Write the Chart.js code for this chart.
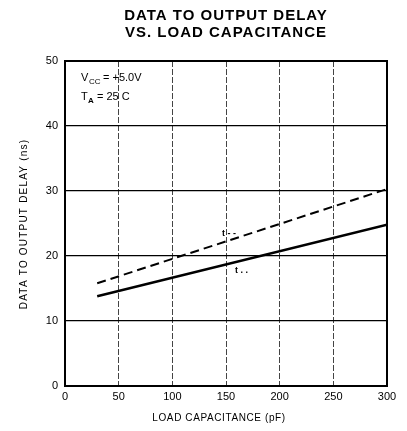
<!DOCTYPE html>
<html>
<head>
<meta charset="utf-8">
<script src="https://cdn.jsdelivr.net/npm/chart.js@4"></script>
<style>
  html, body { margin: 0; padding: 0; background: #fff; }
  #wrap { width: 407px; height: 431px; }
</style>
</head>
<body>
<div id="wrap"><canvas id="delayChart" width="407" height="431"></canvas></div>
<script>
// values
const loadCap = [30, 300];
const delaySolid = [13.8, 24.8];
const delayDashed = [15.8, 30.3];
const xTicks = [0, 50, 100, 150, 200, 250, 300];
const yTicks = [0, 10, 20, 30, 40, 50];

const FONT = '"Liberation Sans", Arial, sans-serif';

// title, axis titles, conditions text, curve tags and the heavy frame
const decorPlugin = {
    id: 'decor',
    afterDraw(chart) {
        const ctx = chart.ctx;
        const area = chart.chartArea;
        ctx.save();
        ctx.fillStyle = '#000';
        ctx.textAlign = 'center';
        ctx.textBaseline = 'middle';
        ctx.letterSpacing = '1px';
        ctx.font = 'bold 15px ' + FONT;
        ctx.fillText('DATA TO OUTPUT DELAY', 226, 16);
        ctx.fillText('VS. LOAD CAPACITANCE', 226, 33);

        ctx.letterSpacing = '0.6px';
        ctx.font = '10px ' + FONT;
        ctx.fillText('LOAD CAPACITANCE (pF)', 219, 418);

        ctx.save();
        ctx.translate(24, 224);
        ctx.rotate(-Math.PI / 2);
        ctx.letterSpacing = '1.2px';
        ctx.fillText('DATA TO OUTPUT DELAY (ns)', 0, 0);
        ctx.restore();

        ctx.letterSpacing = '0px';
        ctx.textAlign = 'left';
        ctx.textBaseline = 'alphabetic';
        ctx.font = '11px ' + FONT;
        ctx.fillText('V', 81, 81);
        ctx.font = '8px ' + FONT;
        ctx.fillText('CC', 89, 84);
        ctx.font = '11px ' + FONT;
        ctx.fillText('= +5.0V', 103, 81);
        ctx.fillText('T', 81, 100);
        ctx.font = 'bold 8px ' + FONT;
        ctx.fillText('A', 88, 103);
        ctx.font = '11px ' + FONT;
        ctx.fillText('= 25 C', 97, 100);

        ctx.font = 'bold 9px ' + FONT;
        ctx.fillText('t - -', 222, 236);
        ctx.fillText('t . .', 235, 273);

        ctx.strokeStyle = '#000';
        ctx.lineWidth = 2;
        ctx.strokeRect(area.left, area.top, area.right - area.left, area.bottom - area.top);
        ctx.restore();
    }
};

new Chart(document.getElementById('delayChart').getContext('2d'), {
    type: 'line',
    data: {
        datasets: [
            {
                label: 'solid',
                data: loadCap.map((c, i) => ({ x: c, y: delaySolid[i] })),
                borderColor: '#000',
                borderWidth: 2.5,
                pointRadius: 0
            },
            {
                label: 'dashed',
                data: loadCap.map((c, i) => ({ x: c, y: delayDashed[i] })),
                borderColor: '#000',
                borderWidth: 2,
                borderDash: [9, 5],
                pointRadius: 0
            }
        ]
    },
    options: {
        responsive: false,
        animation: false,
        layout: { padding: { top: 61, right: 20, left: 0, bottom: 0 } },
        plugins: {
            legend: { display: false },
            tooltip: { enabled: false },
            title: { display: false }
        },
        scales: {
            x: {
                type: 'linear',
                min: 0,
                max: 300,
                afterFit: scale => { scale.height = 45; },
                afterBuildTicks: scale => { scale.ticks = xTicks.map(v => ({ value: v })); },
                ticks: { color: '#000', padding: 4, font: { family: FONT, size: 11 } },
                grid: { color: '#444', lineWidth: 1, drawTicks: false },
                border: { display: false, dash: [6, 2] }
            },
            y: {
                min: 0,
                max: 50,
                afterFit: scale => { scale.width = 65; },
                afterBuildTicks: scale => { scale.ticks = yTicks.map(v => ({ value: v })); },
                ticks: { color: '#000', padding: 7, font: { family: FONT, size: 11 } },
                grid: { color: '#000', lineWidth: 1.3, drawTicks: false },
                border: { display: false }
            }
        }
    },
    plugins: [decorPlugin]
});
</script>
</body>
</html>
